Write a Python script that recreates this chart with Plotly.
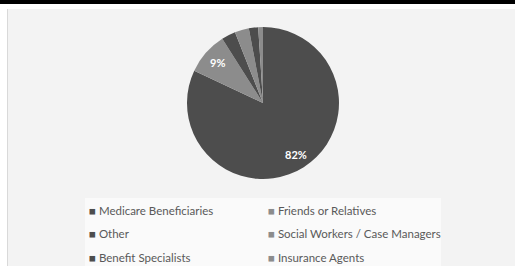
import math
import plotly.graph_objects as go

labels = ["Medicare Beneficiaries", "Friends or Relatives", "Other",
          "Social Workers / Case Managers", "Benefit Specialists", "Insurance Agents"]
values = [82, 9, 3, 3, 2, 1]
colors = ["#4d4d4d", "#8c8c8c", "#4d4d4d", "#8c8c8c", "#4d4d4d", "#8c8c8c"]
label_min = 5  # only slices of at least this percentage carry a label

W, H = 515, 266
cx, cy, r = 263, 103, 76

fig = go.Figure(go.Pie(
    labels=labels, values=values, sort=False, direction="clockwise", rotation=0,
    marker=dict(colors=colors, line=dict(width=0)),
    textinfo="none",
    domain=dict(x=[(cx - r) / W, (cx + r) / W], y=[1 - (cy + r) / H, 1 - (cy - r) / H]),
    showlegend=False, hoverinfo="label+percent",
))

shapes = [
    dict(type="rect", xref="paper", yref="paper", x0=8 / W, x1=1, y0=0, y1=1 - 9 / H,
         fillcolor="#f3f3f3", line=dict(width=0), layer="below"),
    dict(type="line", xref="paper", yref="paper", x0=7.5 / W, x1=7.5 / W, y0=0, y1=1 - 9 / H,
         line=dict(color="#d9d9d9", width=1), layer="below"),
    dict(type="rect", xref="paper", yref="paper", x0=85 / W, x1=441 / W, y0=0, y1=1 - 198 / H,
         fillcolor="#fafafa", line=dict(width=0), layer="below"),
    dict(type="rect", xref="paper", yref="paper", x0=0, x1=1, y0=1 - 4 / H, y1=1,
         fillcolor="#000000", line=dict(width=0)),
]

annotations = []
# percentage labels placed at each slice's mid angle
total = sum(values)
cum = 0
for v in values:
    mid = (cum + v / 2) / total * 2 * math.pi
    cum += v
    if v / total * 100 >= label_min:
        rr = 0.8 * r
        px = cx + rr * math.sin(mid)
        py = cy - rr * math.cos(mid)
        annotations.append(dict(
            xref="paper", yref="paper", x=px / W, y=1 - py / H, showarrow=False,
            xanchor="center", yanchor="middle",
            text=f"<b>{round(v / total * 100)}%</b>",
            font=dict(family="Lato", size=11, color="white"),
        ))

# legend (two columns)
col_x = [87, 266]
row_y = [210, 233, 257]
for i, (lab, col) in enumerate(zip(labels, colors)):
    x = col_x[i % 2]
    y = row_y[i // 2]
    annotations.append(dict(
        xref="paper", yref="paper", x=x / W, y=1 - y / H, xanchor="left", yanchor="middle",
        showarrow=False,
        text=f"<span style='color:{col}'>■</span> {lab}",
        font=dict(family="Lato", size=11.5, color="#595959"),
    ))

fig.update_layout(
    width=W, height=H, margin=dict(l=0, r=0, t=0, b=0),
    paper_bgcolor="white", plot_bgcolor="white",
    shapes=shapes, annotations=annotations,
)
fig.write_html("out.html", config={"displayModeBar": False},
               post_script="document.body.style.margin='0';")
